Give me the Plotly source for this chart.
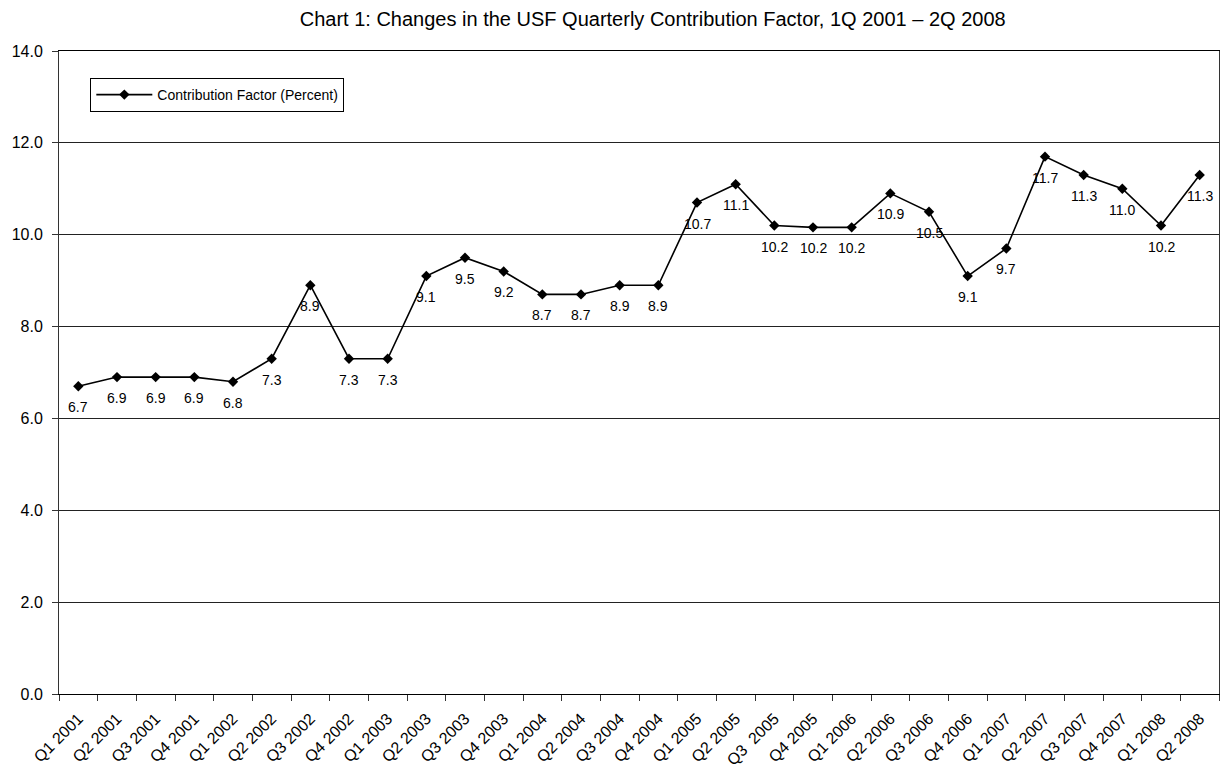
import plotly.graph_objects as go

quarters = ["Q1 2001", "Q2 2001", "Q3 2001", "Q4 2001", "Q1 2002", "Q2 2002", "Q3 2002", "Q4 2002",
            "Q1 2003", "Q2 2003", "Q3 2003", "Q4 2003", "Q1 2004", "Q2 2004", "Q3 2004", "Q4 2004",
            "Q1 2005", "Q2 2005", "Q3  2005", "Q4 2005", "Q1 2006", "Q2 2006", "Q3 2006", "Q4 2006",
            "Q1 2007", "Q2 2007", "Q3 2007", "Q4 2007", "Q1 2008", "Q2 2008"]
factor = [6.7, 6.9, 6.9, 6.9, 6.8, 7.3, 8.9, 7.3, 7.3, 9.1, 9.5, 9.2, 8.7, 8.7, 8.9, 8.9,
          10.7, 11.1, 10.2, 10.16, 10.16, 10.9, 10.5, 9.1, 9.7, 11.7, 11.3, 11.0, 10.2, 11.3]
y_ticks = [0, 2, 4, 6, 8, 10, 12, 14]

FONT = "Liberation Sans, Arial, sans-serif"

fig = go.Figure()
fig.add_trace(go.Scatter(
    x=quarters, y=factor, mode="lines+markers",
    name="Contribution Factor (Percent)",
    line=dict(color="black", width=1.6),
    marker=dict(symbol="diamond", size=8, color="black"),
))

for q, v in zip(quarters, factor):
    fig.add_annotation(x=q, y=v, text=f"{v:.1f}", showarrow=False, yshift=-21,
                       font=dict(family=FONT, size=14, color="black"))

fig.update_layout(
    width=1220, height=772,
    paper_bgcolor="white", plot_bgcolor="white",
    margin=dict(l=59, r=1, t=51, b=78, autoexpand=False),
    title=dict(text="Chart 1: Changes in the USF Quarterly Contribution Factor, 1Q 2001 \u2013 2Q 2008",
               x=0.535, xanchor="center", y=0.975, yanchor="middle",
               font=dict(family=FONT, size=20, color="black")),
    font=dict(family=FONT, color="black"),
    showlegend=True,
    legend=dict(x=0.027, y=0.958, xanchor="left", yanchor="top",
                bordercolor="black", borderwidth=1, bgcolor="white",
                font=dict(family=FONT, size=14, color="black"),
                itemwidth=56, tracegroupgap=0),
)
fig.update_yaxes(range=[0, 14], tickvals=y_ticks, tickformat=".1f", automargin=False,
                 showgrid=True, gridcolor="#222", gridwidth=1,
                 showline=True, linecolor="#333", linewidth=1, mirror=True,
                 ticks="outside", ticklen=6, tickcolor="#333", ticklabelstandoff=6,
                 tickfont=dict(family=FONT, size=16, color="black"), zeroline=False)
fig.update_xaxes(type="category", range=[-0.5, len(quarters) - 0.5],
                 tickangle=-45, tickson="boundaries", automargin=False,
                 showline=True, linecolor="black", linewidth=1, mirror=True,
                 ticks="outside", ticklen=6, tickcolor="#333", showgrid=False,
                 ticklabelstandoff=8,
                 tickfont=dict(family=FONT, size=16, color="black"))

fig.write_html("out.html", config={"displayModeBar": False},
               post_script="document.body.style.margin='0';")
